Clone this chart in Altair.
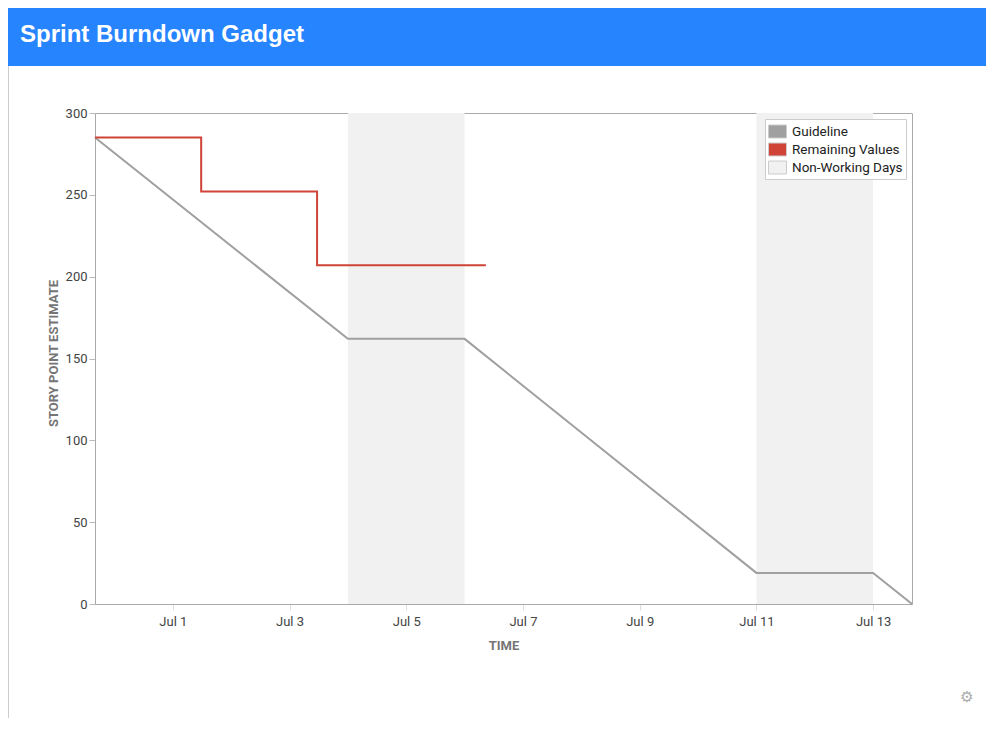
import altair as alt
import pandas as pd

# ---- data ----
guide_times = ["2020-06-29T16:00:00", "2020-07-04T00:00:00", "2020-07-06T00:00:00",
               "2020-07-11T00:00:00", "2020-07-13T00:00:00", "2020-07-13T16:00:00"]
guide_points = [285, 162, 162, 19, 19, 0]

remaining_times = ["2020-06-29T16:00:00", "2020-07-01T11:40:00",
                   "2020-07-03T11:20:00", "2020-07-06T08:45:00"]
remaining_points = [285, 252, 207, 207]

nonworking_start = ["2020-07-04T00:00:00", "2020-07-11T00:00:00"]
nonworking_end = ["2020-07-06T00:00:00", "2020-07-13T00:00:00"]

series_names = ["Guideline", "Remaining Values", "Non-Working Days"]
series_colors = ["#a0a0a0", "#d04437", "#f1f1f1"]

x_tick_days = [1, 3, 5, 7, 9, 11, 13]
y_ticks = [0, 50, 100, 150, 200, 250, 300]
title_text = ["Sprint Burndown Gadget"]

# ---- layout ----
W, H = 817, 491
PAD = {"left": 87, "top": 105, "right": 74, "bottom": 114}

guide_df = pd.DataFrame({"time": guide_times, "points": guide_points,
                         "series": "Guideline"})
remain_df = pd.DataFrame({"time": remaining_times, "points": remaining_points,
                          "series": "Remaining Values"})
nonwork_df = pd.DataFrame({"start": nonworking_start, "end": nonworking_end,
                           "series": "Non-Working Days"})
title_df = pd.DataFrame({"label": title_text})

x_domain = [alt.DateTime(year=2020, month=6, date=29, hours=16),
            alt.DateTime(year=2020, month=7, date=13, hours=16)]
x_scale = alt.Scale(domain=x_domain, nice=False)
y_scale = alt.Scale(domain=[0, 300], nice=False)

x_axis = alt.Axis(
    values=[alt.DateTime(year=2020, month=7, date=d) for d in x_tick_days],
    format="%b %-d", title="TIME", grid=False,
    labelFont="Roboto", labelFontSize=13, labelColor="#444444",
    titleFont="Roboto", titleFontSize=13, titleFontWeight="bold", titleColor="#757575",
    tickColor="#dddddd", tickSize=6, labelPadding=5, titlePadding=11,
    domainColor="#aaaaaa",
)
y_axis = alt.Axis(
    values=y_ticks, title="STORY POINT ESTIMATE", grid=False,
    labelFont="Roboto", labelFontSize=13, labelColor="#444444",
    titleFont="Roboto", titleFontSize=13, titleFontWeight="bold", titleColor="#757575",
    tickColor="#bbbbbb", tickSize=6, labelPadding=2, titlePadding=5,
    titleY=240, domainColor="#aaaaaa",
)

bands = alt.Chart(nonwork_df).mark_rect().encode(
    x=alt.X("start:T", scale=x_scale, axis=x_axis),
    x2="end:T",
    y=alt.value(0),
    y2=alt.value(H),
    color=alt.Color(
        "series:N",
        scale=alt.Scale(domain=series_names, range=series_colors),
        legend=alt.Legend(
            title=None, orient="top-right", offset=6,
            fillColor="white", strokeColor="#cccccc", padding=3,
            symbolType="M-1,-0.72H1V0.72H-1Z", symbolSize=324,
            symbolStrokeColor="#cccccc", symbolStrokeWidth=1,
            labelFont="Roboto", labelFontSize=13.5, labelColor="#222222",
            labelOffset=5, rowPadding=0,
        ),
    ),
)

guide = alt.Chart(guide_df).mark_line(color=series_colors[0], strokeWidth=2).encode(
    x=alt.X("time:T", scale=x_scale, axis=x_axis),
    y=alt.Y("points:Q", scale=y_scale, axis=y_axis),
)

remain = alt.Chart(remain_df).mark_line(
    color=series_colors[1], strokeWidth=2, interpolate="step-after"
).encode(
    x=alt.X("time:T", scale=x_scale),
    y=alt.Y("points:Q", scale=y_scale),
)

header = alt.Chart(title_df).mark_rect(color="#2684ff").encode(
    x=alt.value(-PAD["left"]), x2=alt.value(W + PAD["right"]),
    y=alt.value(-105), y2=alt.value(-47),
)
header_text = alt.Chart(title_df).mark_text(
    color="white", font="Liberation Sans", fontWeight="bold", fontSize=24,
    align="left", baseline="alphabetic",
).encode(
    x=alt.value(-75), y=alt.value(-71), text="label:N",
)
frame_line = alt.Chart(title_df).mark_rule(color="#cccccc", strokeWidth=1).encode(
    x=alt.value(-PAD["left"] + 0.5), y=alt.value(-47), y2=alt.value(H + PAD["bottom"]),
)
gear = alt.Chart(title_df).mark_text(
    text="\u2699", color="#aaaaaa", fontSize=15, font="DejaVu Sans",
).encode(x=alt.value(872), y=alt.value(584))

chart = alt.layer(bands, guide, remain, header, header_text, frame_line, gear).properties(
    width=W, height=H,
    autosize=alt.AutoSizeParams(type="none"),
    padding=PAD,
    background="white",
).configure_view(stroke="#aaaaaa", strokeWidth=1)

chart.save("out.html", embed_options={"renderer": "svg", "actions": False})
